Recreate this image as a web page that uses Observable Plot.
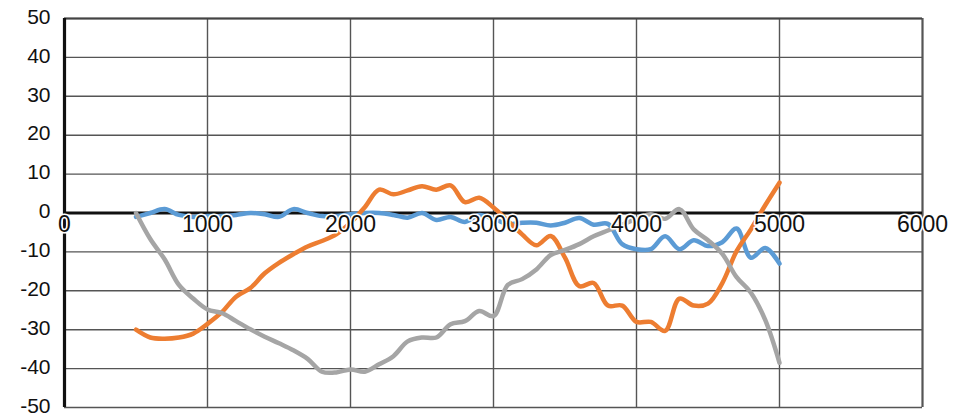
<!DOCTYPE html>
<html>
<head>
<meta charset="utf-8">
<script src="https://cdn.jsdelivr.net/npm/d3@7"></script>
<script src="https://cdn.jsdelivr.net/npm/@observablehq/plot@0.6"></script>
<style>
  html, body { margin: 0; padding: 0; background: #fff; }
  #chart svg { display: block; font-family: "Liberation Sans", Arial, sans-serif; }
</style>
</head>
<body>
<div id="chart"></div>
<script>
const xValues = [500, 600, 700, 800, 900, 1000, 1100, 1200, 1300, 1400, 1500, 1600, 1700, 1800, 1900,
  2000, 2100, 2200, 2300, 2400, 2500, 2600, 2700, 2800, 2900, 3000, 3100, 3200, 3300, 3400,
  3500, 3600, 3700, 3800, 3900, 4000, 4100, 4200, 4300, 4400, 4500, 4600, 4700, 4800, 4900, 5000];

const blueSeries = [-1, 0, 1, -0.5, -1, -0.8, -0.8, -0.5, 0, -0.3, -1, 1, 0, -0.8, -0.8,
  -0.3, 0, 0, -0.5, -1.2, 0, -1.8, -1, -2.3, -0.5, -1.5, -2.8, -2.5, -2.5, -3.2,
  -2.5, -1.3, -3, -2.8, -8, -9.3, -9.3, -6, -9.3, -7, -8.5, -7.5, -4, -11.5, -9, -13];

const orangeSeries = [-30, -32, -32.3, -32, -31, -28.5, -25.5, -21.5, -19.3, -15.5, -12.8, -10.6, -8.6, -7.2, -5.5,
  -2.5, 1.5, 6, 4.8, 5.8, 6.9, 6, 7.1, 2.8, 3.9, 1.4, -2, -5.5, -8.3, -5.9,
  -11.5, -18.8, -18, -23.8, -23.8, -28, -28, -30.3, -22, -23.8, -23.3, -18, -9.8, -4.2, 2, 7.8];

const graySeries = [0, -6.7, -11.9, -18.5, -22, -24.8, -25.7, -27.8, -29.9, -31.8, -33.5, -35.3, -37.5, -40.8, -41,
  -40.2, -40.8, -38.9, -36.8, -33, -32, -32, -28.6, -27.8, -25.2, -26.5, -18.5, -17, -14.5, -10.8,
  -9.5, -8, -6, -4.5, -3, -1.5, -0.3, -1.5, 1, -4.2, -7, -10.5, -16.5, -20.5, -27.5, -38.5];

const xTicks = [0, 1000, 2000, 3000, 4000, 5000, 6000];
const yTicks = [50, 40, 30, 20, 10, 0, -10, -20, -30, -40, -50];

const seriesNames = ["blue", "orange", "gray"];
const seriesColors = ["#5B9BD5", "#ED7D31", "#A5A5A5"];
const seriesValues = [blueSeries, orangeSeries, graySeries];

const table = seriesNames.map((name, i) =>
  xValues.map((x, j) => ({series: name, x, y: seriesValues[i][j]}))
);

const gridColor = "#555555";

const chart = Plot.plot({
  width: 965,
  height: 416,
  marginLeft: 64,
  marginRight: 43,
  marginTop: 18,
  marginBottom: 9,
  x: {domain: [0, 6000], axis: null},
  y: {domain: [-50, 50], axis: null},
  marks: [
    Plot.gridY(yTicks, {stroke: gridColor, strokeOpacity: 1, strokeWidth: 1.4}),
    Plot.gridX(xTicks, {stroke: gridColor, strokeOpacity: 1, strokeWidth: 1.4}),
    Plot.ruleX([6000], {stroke: gridColor, strokeWidth: 2}),
    Plot.ruleY([50], {stroke: "#444", strokeWidth: 2}),
    Plot.ruleY([0], {stroke: "#111", strokeWidth: 3.2}),
    Plot.ruleX([0], {stroke: "#111", strokeWidth: 3.2}),
    ...table.map((rows, i) => Plot.line(rows, {
      x: "x", y: "y", stroke: seriesColors[i], strokeWidth: 4.5,
      curve: "catmull-rom", strokeLinecap: "round", strokeLinejoin: "round"
    })),
    Plot.text(yTicks, {
      x: 0, y: d => d, text: d => String(d),
      textAnchor: "end", dx: -14, dy: -1.5,
      fontSize: 21, fill: "#111", ariaLabel: "y-labels"
    }),
    Plot.text(xTicks, {
      x: d => d, y: 0, text: d => String(d),
      textAnchor: "middle", dy: 12,
      fontSize: 23, fill: "#111", stroke: "white", strokeWidth: 3,
      ariaLabel: "x-labels"
    })
  ]
});

d3.select(chart).selectAll('g[aria-label="y-labels"] text').style("letter-spacing", "2px");
document.getElementById("chart").appendChild(chart);
</script>
</body>
</html>
